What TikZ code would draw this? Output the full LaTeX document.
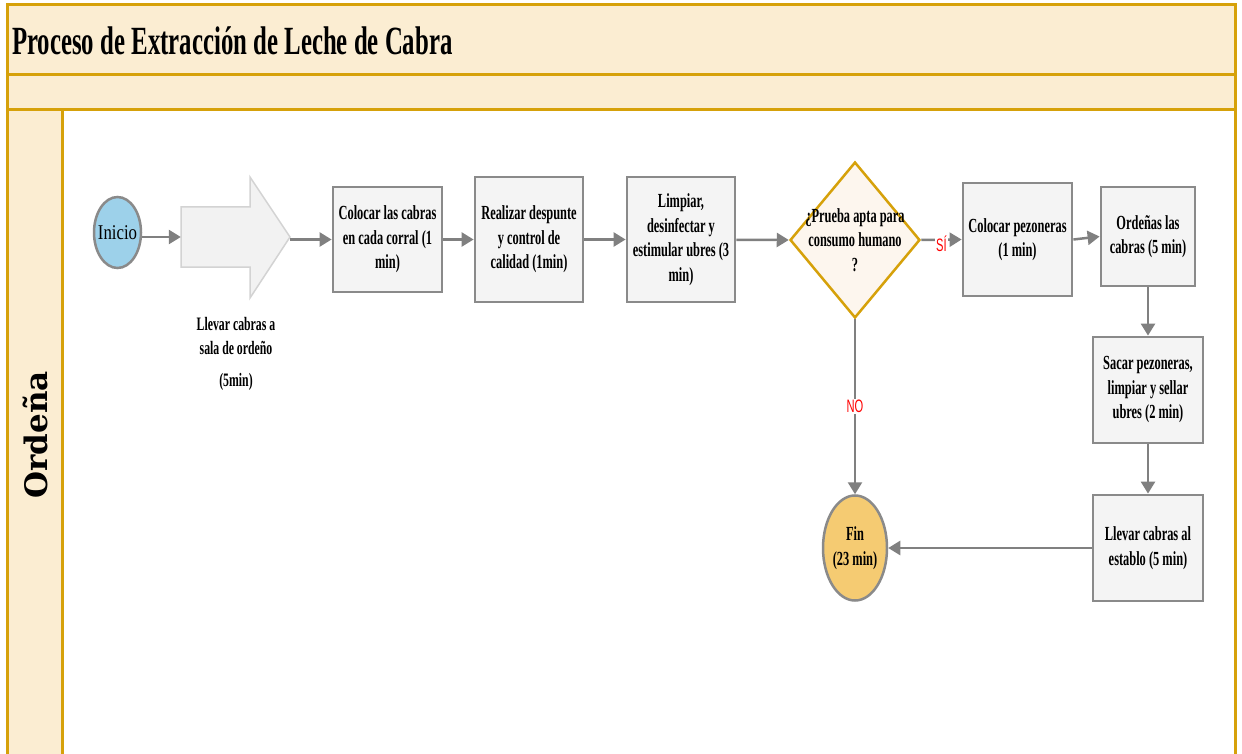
\documentclass[tikz,border=0pt]{standalone}
\usepackage{fontspec}
\setmainfont[FakeStretch=0.62]{Liberation Serif}
\newfontfamily\startfont[FakeStretch=0.8]{Liberation Serif}
\newfontfamily\narrowsans[FakeStretch=0.62]{Liberation Sans}
\newfontfamily\lanefont{DejaVu Serif}
\usetikzlibrary{arrows.meta,shapes.geometric}
\definecolor{laneline}{HTML}{D6A10A}
\definecolor{lanefill}{HTML}{FBEDD2}
\definecolor{boxfill}{HTML}{F4F4F4}
\definecolor{boxline}{HTML}{8A8A8A}
\definecolor{flow}{HTML}{808080}
\definecolor{startfill}{HTML}{9DD1EA}
\definecolor{endfill}{HTML}{F5CB72}
\definecolor{decfill}{HTML}{FDF6EE}
\definecolor{bigarrowfill}{HTML}{F2F2F2}
\definecolor{bigarrowline}{HTML}{D3D3D3}
\tikzset{
  band/.style={draw=laneline, fill=lanefill, line width=3pt},
  stepbox/.style={draw=boxline, fill=boxfill, line width=2.8pt, align=center,
    inner sep=0pt, font=\bfseries\fontsize{20}{24.5}\selectfont},
  terminal/.style={ellipse, draw=boxline, line width=2.5pt, inner sep=0pt, align=center},
  decision/.style={diamond, draw=laneline, fill=decfill, line width=2.5pt, inner sep=0pt},
  txt/.style={align=center, inner sep=0pt, font=\bfseries\fontsize{20}{24.5}\selectfont},
  flowline/.style={draw=flow, line width=2.5pt, -{Triangle[length=12pt,width=14pt]}},
  answer/.style={text=red, font=\narrowsans\fontsize{18}{18}\selectfont, inner sep=1pt}
}
\begin{document}
\begin{tikzpicture}[x=1pt,y=-1pt]
\useasboundingbox (0,0) rectangle (1242,754);
\begin{scope}
\clip (0,0) rectangle (1242,754);
% pool frame, title band, blank band and lane header
\draw[laneline, line width=3pt, fill=white] (7,5) rectangle (1235,800);
\draw[band] (7,5) rectangle (1235,75);
\draw[band] (7,75) rectangle (1235,110);
\draw[band] (7,110) rectangle (62,800);
\end{scope}
\node[anchor=west, inner sep=0pt, font=\bfseries\fontsize{40}{40}\selectfont] (title) at (12,41) {Proceso de Extracción de Leche de Cabra};
\node[rotate=90, inner sep=0pt, font=\lanefont\bfseries\fontsize{31}{31}\selectfont] (lane) at (35,435) {Ordeña};

% start (label placed in the middle so the ellipse keeps its own size)
\node[terminal, fill=startfill, minimum width=47pt, minimum height=71pt,
  label={[font=\startfont\fontsize{21}{21}\selectfont, inner sep=0pt]center:Inicio}] (inicio) at (117.5,232.5) {};

% large transfer arrow
\node[minimum width=109pt, minimum height=123pt, inner sep=0pt] (llevar) at (235.5,237) {};
\draw[draw=bigarrowline, fill=bigarrowfill, line width=1.5pt]
  (181,207) -- (250,207) -- (250,177) -- (290,237) -- (250,298) -- (250,267) -- (181,267) -- cycle;
\node[txt, font=\bfseries\fontsize{19}{24}\selectfont] (llevarlbl) at (236,354)
  {Llevar cabras a\\sala de ordeño\\[8pt](5min)};

% process steps
\node[stepbox, minimum width=109pt, minimum height=105pt] (corral) at (387.5,239.5)
  {Colocar las cabras\\en cada corral (1\\min)};
\node[stepbox, minimum width=108pt, minimum height=125pt] (despunte) at (529,239.5)
  {Realizar despunte\\y control de\\calidad (1min)};
\node[stepbox, minimum width=108pt, minimum height=125pt] (limpiar) at (681,239.5)
  {Limpiar,\\desinfectar y\\estimular ubres (3\\min)};
\node[decision, minimum width=130pt, minimum height=156pt] (prueba) at (855,240) {};
\node[txt] (pruebatxt) at (855,240) {¿Prueba apta para\\consumo humano\\?};
\node[stepbox, minimum width=109pt, minimum height=113pt] (pezoneras) at (1017.5,239.5)
  {Colocar pezoneras\\(1 min)};
\node[stepbox, minimum width=94pt, minimum height=99pt] (ordenar) at (1148,236.5)
  {Ordeñas las\\cabras (5 min)};
\node[stepbox, minimum width=110pt, minimum height=106pt] (sacar) at (1148,390)
  {Sacar pezoneras,\\limpiar y sellar\\ubres (2 min)};
\node[stepbox, minimum width=110pt, minimum height=106pt] (establo) at (1148,548)
  {Llevar cabras al\\establo (5 min)};

% end
\node[terminal, fill=endfill, minimum width=64pt, minimum height=105pt,
  font=\bfseries\fontsize{20}{24.5}\selectfont] (fin) at (855,548) {Fin\\(23 min)};

% connectors
\draw[flowline] (inicio.east |- llevar.west) -- (llevar.west);
\draw[flowline] (llevar.east |- corral.west) -- (corral.west);
\draw[flowline] (corral) -- (despunte);
\draw[flowline] (despunte) -- (limpiar);
\draw[flowline] (limpiar) -- (prueba.west);
\draw[flowline] (prueba.east) -- node[answer, fill=white, pos=0.5, yshift=-4pt] (si) {SÍ} (pezoneras.west);
\draw[flowline] (pezoneras.east) -- (ordenar.west);
\draw[flowline] (ordenar.south) -- (sacar.north);
\draw[flowline] (sacar.south) -- (establo.north);
\draw[flowline] (establo.west) -- (fin.east);
\draw[flowline] (prueba.south) -- node[answer, fill=white, pos=0.5] (no) {NO} (fin.north);
\end{tikzpicture}
\end{document}
